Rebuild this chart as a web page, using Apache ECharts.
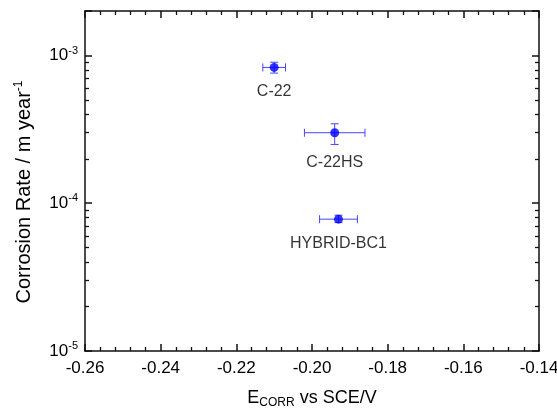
<!DOCTYPE html>
<html>
<head>
<meta charset="utf-8">
<script src="https://cdn.jsdelivr.net/npm/echarts@6/dist/echarts.min.js"></script>
<style>
  html, body { margin: 0; padding: 0; background: #fff; }
  #chart { width: 557px; height: 409px; }
</style>
</head>
<body>
<div id="chart"></div>
<script>
// alloys, corrosion potential (V vs SCE) and corrosion rate (m/year)
const alloys = ['C-22', 'C-22HS', 'HYBRID-BC1'];
const ecorr = [-0.210, -0.194, -0.193];
const ecorrErr = [0.003, 0.008, 0.005];
const rate = [8.3e-4, 3.0e-4, 7.8e-5];
const rateLow = [7.6e-4, 2.5e-4, 7.4e-5];
const rateHigh = [9.0e-4, 3.45e-4, 8.3e-5];
const labelGap = [12, 17, 12];

const xTicks = [-0.26, -0.24, -0.22, -0.20, -0.18, -0.16, -0.14];
const yMinor = [2e-5, 3e-5, 4e-5, 5e-5, 6e-5, 7e-5, 8e-5, 9e-5,
                2e-4, 3e-4, 4e-4, 5e-4, 6e-4, 7e-4, 8e-4, 9e-4];

const FONT = 'Liberation Sans, Arial, sans-serif';
const AXIS = '#111';
const TEXT = '#000';
const BLUE = '#0000ff';
const BAR = '#4646ff';

const chart = echarts.init(document.getElementById('chart'));

function supLabel(v) {
    const e = Math.round(Math.log10(v));
    if (Math.abs(Math.log10(v) - e) > 1e-6) return '';
    return '10{sup|' + e + '}';
}

function majorTick() {
    return { show: true, inside: true, length: 7, lineStyle: { color: AXIS, width: 1.5 } };
}
function minorTick(values) {
    let t = { show: true, inside: true, length: 4, lineStyle: { color: AXIS, width: 1.3 } };
    if (values) t.customValues = values;
    return t;
}
function axisLine() {
    return { show: true, lineStyle: { color: AXIS, width: 1.5 } };
}

function xAxisAt(pos) {
    return {
        type: 'value',
        position: pos,
        min: xTicks[0],
        max: xTicks[xTicks.length - 1],
        interval: 0.02,
        axisLine: axisLine(),
        axisTick: majorTick(),
        minorTick: minorTick(),
        splitLine: { show: false },
        minorSplitLine: { show: false },
        axisLabel: { show: false }
    };
}

function yAxisAt(pos, minor) {
    return {
        type: 'log',
        logBase: 10,
        position: pos,
        min: 1e-5,
        max: 2e-3,
        splitLine: { show: false },
        axisLine: minor ? { show: false } : axisLine(),
        axisTick: minor ? minorTick(yMinor) : majorTick(),
        axisLabel: { show: false }
    };
}

let xBottom = xAxisAt('bottom');
xBottom.name = 'E{sub|CORR} vs SCE/V';
xBottom.nameLocation = 'middle';
xBottom.nameGap = 36;
xBottom.nameTextStyle = {
    fontSize: 18, color: TEXT, fontFamily: FONT,
    rich: { sub: { fontSize: 12, color: TEXT, fontFamily: FONT, padding: [10, 0, 0, 0] } }
};
xBottom.axisLabel = {
    show: true, margin: 9, fontSize: 17, color: TEXT, fontFamily: FONT,
    formatter: v => v.toFixed(2)
};

let yLeft = yAxisAt('left', false);
yLeft.name = 'Corrosion Rate / m year{sup|-1}';
yLeft.nameLocation = 'middle';
yLeft.nameRotate = 90;
yLeft.nameGap = 50;
yLeft.nameTextStyle = {
    fontSize: 20, color: TEXT, fontFamily: FONT, padding: [0, 22, 0, 0],
    rich: { sup: { fontSize: 12, color: TEXT, fontFamily: FONT, padding: [0, 0, 10, 0] } }
};
yLeft.axisLabel = {
    show: true, margin: 7, fontSize: 17, color: TEXT, fontFamily: FONT,
    formatter: supLabel,
    rich: { sup: { fontSize: 11, color: TEXT, fontFamily: FONT, padding: [0, 0, 10, 0] } }
};

const option = {
    animation: false,
    backgroundColor: '#fff',
    textStyle: { fontFamily: FONT },
    grid: { left: 85, right: 18, top: 11, bottom: 58, outerBoundsMode: 'none' },
    xAxis: [xBottom, xAxisAt('top')],
    yAxis: [yLeft, yAxisAt('right', false), yAxisAt('left', true), yAxisAt('right', true)],
    series: [
        {
            type: 'custom',
            xAxisIndex: 0,
            yAxisIndex: 0,
            silent: true,
            data: alloys.map((n, i) => [ecorr[i], rate[i], ecorrErr[i], rateLow[i], rateHigh[i]]),
            encode: { x: 0, y: 1 },
            renderItem: function (params, api) {
                const x = api.value(0), y = api.value(1), xe = api.value(2);
                const lo = api.value(3), hi = api.value(4);
                const l = api.coord([x - xe, y]);
                const r = api.coord([x + xe, y]);
                const t = api.coord([x, hi]);
                const b = api.coord([x, lo]);
                const cap = 4;
                const st = { stroke: BAR, lineWidth: 1 };
                const seg = (x1, y1, x2, y2) => ({ type: 'line', shape: { x1, y1, x2, y2 }, style: st });
                return {
                    type: 'group',
                    children: [
                        seg(l[0], l[1], r[0], r[1]),
                        seg(l[0], l[1] - cap, l[0], l[1] + cap),
                        seg(r[0], r[1] - cap, r[0], r[1] + cap),
                        seg(t[0], t[1], b[0], b[1]),
                        seg(t[0] - cap, t[1], t[0] + cap, t[1]),
                        seg(b[0] - cap, b[1], b[0] + cap, b[1])
                    ]
                };
            }
        },
        {
            type: 'scatter',
            xAxisIndex: 0,
            yAxisIndex: 0,
            symbol: 'circle',
            symbolSize: 9,
            itemStyle: { color: BLUE },
            data: alloys.map((n, i) => ({
                name: n,
                value: [ecorr[i], rate[i]],
                label: { distance: labelGap[i] }
            })),
            label: {
                show: true,
                position: 'bottom',
                formatter: '{b}',
                fontSize: 16,
                color: TEXT,
                fontFamily: FONT
            }
        }
    ]
};

chart.setOption(option);
</script>
</body>
</html>
